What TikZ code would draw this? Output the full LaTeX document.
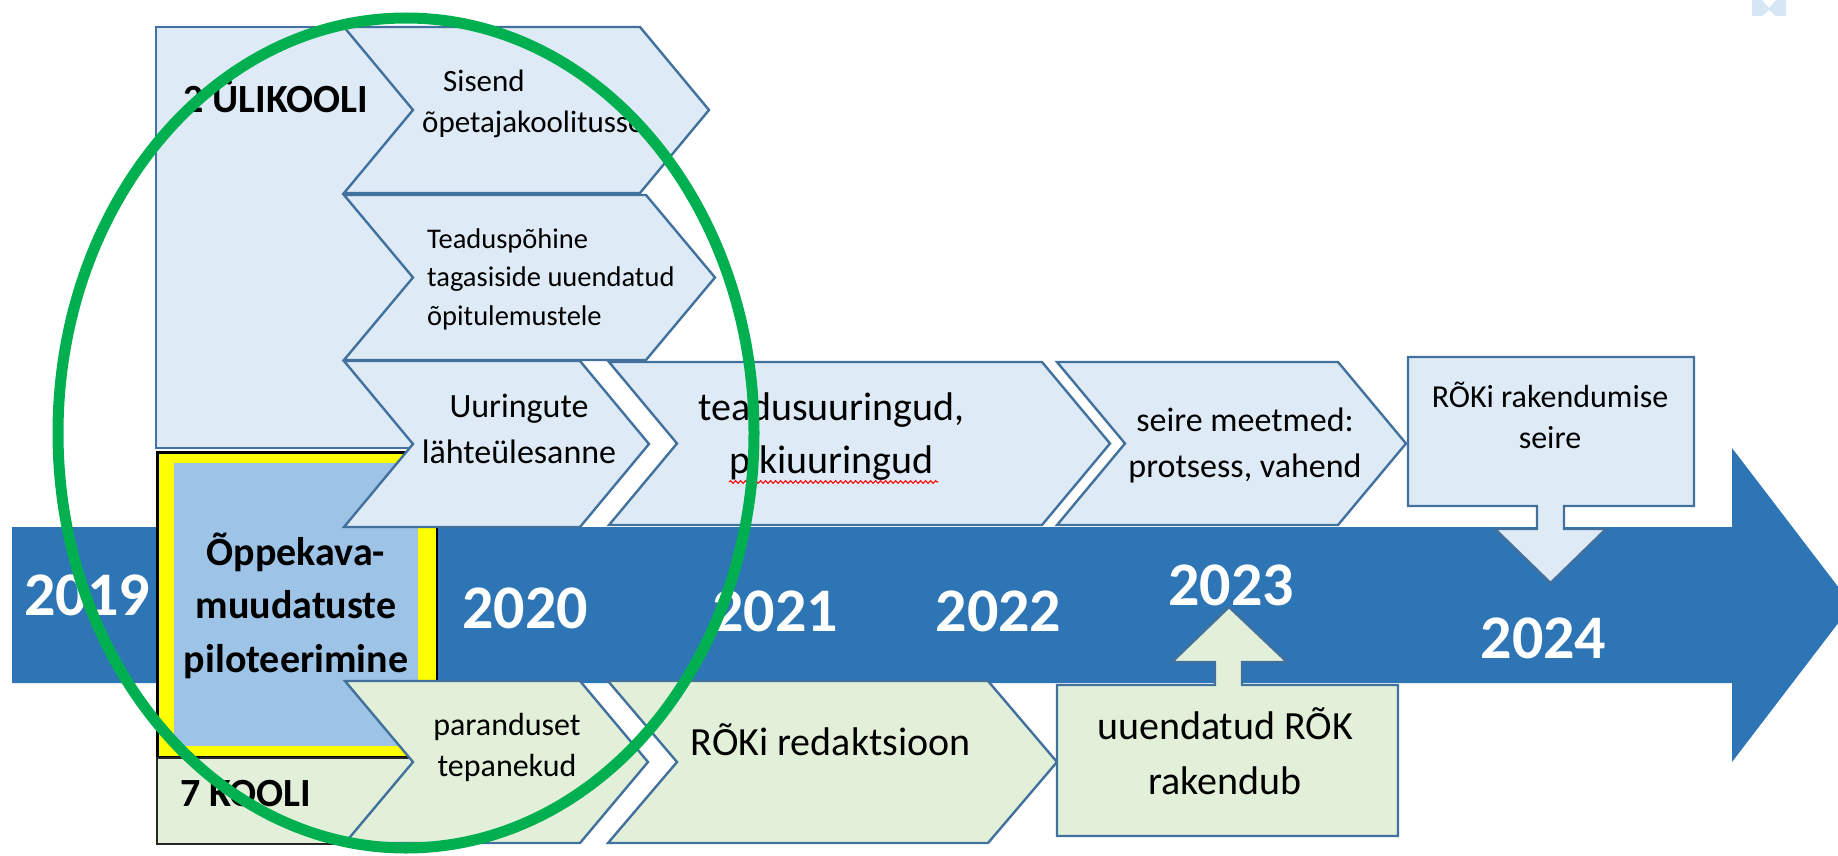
\documentclass[tikz,border=0pt]{standalone}
\usepackage{fontspec}
\setmainfont{Carlito}
\usetikzlibrary{decorations.pathmorphing}
\newcommand\ctrlines[1]{\vtop{\halign{\hfil##\hfil\cr#1\crcr}}}
\newcommand\lftlines[1]{\vtop{\halign{##\hfil\cr#1\crcr}}}
\definecolor{lblue}{HTML}{DEEBF7}
\definecolor{mblue}{HTML}{9DC3E6}
\definecolor{lgreen}{HTML}{E2F0D9}
\definecolor{edgec}{HTML}{41719C}
\definecolor{arrowblue}{HTML}{2E75B6}
\definecolor{ringgreen}{HTML}{00B050}
\definecolor{yel}{HTML}{FFFF00}
\definecolor{iconblue}{HTML}{D6E6F5}
\begin{document}
\begin{tikzpicture}[x=1pt,y=-1pt,
  shapeline/.style={draw=edgec, line width=2.4pt, line join=miter},
  upshape/.style={shapeline, fill=lblue},
  lowshape/.style={shapeline, fill=lgreen},
  yr/.style={anchor=base, inner sep=0pt, text=white, font=\fontsize{62}{70}\selectfont\bfseries},
  lbl/.style={anchor=base, inner sep=0pt, text=black},
  f28/.style={font=\fontsize{28.5}{38.5}\selectfont},
  f31/.style={font=\fontsize{31}{41}\selectfont},
  f32/.style={font=\fontsize{32}{41}\selectfont},
  f34/.style={font=\fontsize{34}{46}\selectfont},
  f40/.style={font=\fontsize{40}{53}\selectfont},
  b40/.style={font=\fontsize{40}{53.5}\selectfont\bfseries},
]
\useasboundingbox (0,0) rectangle (1838,856);
\clip (0,0) rectangle (1838,856);

% big timeline arrow
\fill[arrowblue] (12,527) -- (1732,527) -- (1732,448) -- (1852,605) -- (1732,762) -- (1732,683) -- (12,683) -- cycle;

% upper group box (2 ulikooli)
\path[upshape] (156,27) rectangle (430,448);

% pilot box with yellow frame
\fill[black] (156,451) rectangle (438,758);
\fill[yel] (158.5,453.5) rectangle (435.5,755.5);
\fill[mblue] (174,463) rectangle (418,746);

% lower group box (7 kooli)
\path[draw=black!85, line width=1.5pt, fill=lgreen] (157,758) rectangle (430,844);

% upper chevrons
\path[upshape] (344,27) -- (640,27) -- (709,110) -- (640,193) -- (344,193) -- (413,110) -- cycle;
\path[upshape] (344,195) -- (646,195) -- (715,277.5) -- (646,360) -- (344,360) -- (413,277.5) -- cycle;
\path[upshape] (344,361) -- (580,361) -- (649,444) -- (580,527) -- (344,527) -- (413,444) -- cycle;
\path[upshape] (609,362) -- (1042,362) -- (1110,443.5) -- (1042,525) -- (609,525) -- (677,443.5) -- cycle;
\path[upshape] (1057,362) -- (1338,362) -- (1406,443.5) -- (1338,525) -- (1057,525) -- (1125,443.5) -- cycle;

% lower chevrons
\path[lowshape] (345,681) -- (580,681) -- (648,762) -- (580,843) -- (345,843) -- (413,762) -- cycle;
\path[lowshape] (608,681) -- (988,681) -- (1057,762) -- (988,843) -- (608,843) -- (677,762) -- cycle;

% callouts
\path[upshape] (1408,357) -- (1694,357) -- (1694,506) -- (1564,506) -- (1564,529) -- (1606,529) -- (1550.5,583) -- (1495,529) -- (1537,529) -- (1537,506) -- (1408,506) -- cycle;
\path[lowshape] (1057,836) -- (1398,836) -- (1398,685) -- (1242,685) -- (1242,662) -- (1287,662) -- (1229,607) -- (1172,662) -- (1215,662) -- (1215,685) -- (1057,685) -- cycle;

% years
\node[yr] (y2019) at (87,615) {2019};
\node[yr] (y2020) at (525,628) {2020};
\node[yr] (y2021) at (775,631) {2021};
\node[yr] (y2022) at (998.5,631) {2022};
\node[yr] (y2023) at (1231,605) {2023};
\node[yr] (y2024) at (1543.5,658) {2024};

% texts
\node[lbl, b40, anchor=base west] (uni) at (183,113) {2 ÜLIKOOLI};
\node[lbl, b40, anchor=base west] (kool) at (180,806) {7 KOOLI};
\node[lbl, b40] (pilot) at (296,565) {\ctrlines{Õppekava-\cr muudatuste\cr piloteerimine}};
\node[lbl, f31, anchor=base west] (sisend) at (422,92) {\lftlines{\kern21pt Sisend\cr õpetajakoolitusse}};
\node[lbl, f28, anchor=base west] (tagasi) at (427,248) {\lftlines{Teaduspõhine\cr tagasiside uuendatud\cr õpitulemustele}};
\node[lbl, f34] (lahte) at (519,417) {\ctrlines{Uuringute\cr lähteülesanne}};
\node[lbl, f40] (uuring) at (831.5,420) {\ctrlines{teadusuuringud,\cr pikiuuringud}};
\node[lbl, f34] (seire) at (1245,431) {\ctrlines{seire meetmed:\cr protsess, vahend}};
\node[lbl, f32] (rakseire) at (1550,407) {\ctrlines{RÕKi rakendumise\cr seire}};
\node[lbl, f32] (parand) at (507,735) {\ctrlines{paranduset\cr tepanekud}};
\node[lbl, f40] (redakt) at (830.5,755) {RÕKi redaktsioon};
\node[lbl, f40, font=\fontsize{40}{55}\selectfont] (rakend) at (1225,739) {\ctrlines{uuendatud RÕK\cr rakendub}};

% spell-check underline
\draw[red, line width=1.1pt, decorate, decoration={snake, amplitude=1.3pt, segment length=5pt}] (729,482) -- (938,482);

% small icon fragment top right
\fill[iconblue] (1752,0) -- (1762,0) -- (1769,8) -- (1776,0) -- (1786,0) -- (1786,16) -- (1776,16) -- (1769,10) -- (1762,16) -- (1752,16) -- cycle;

% green ellipse
\draw[ringgreen, line width=11pt] (406,433) ellipse [x radius=348pt, y radius=415pt];
\end{tikzpicture}
\end{document}
